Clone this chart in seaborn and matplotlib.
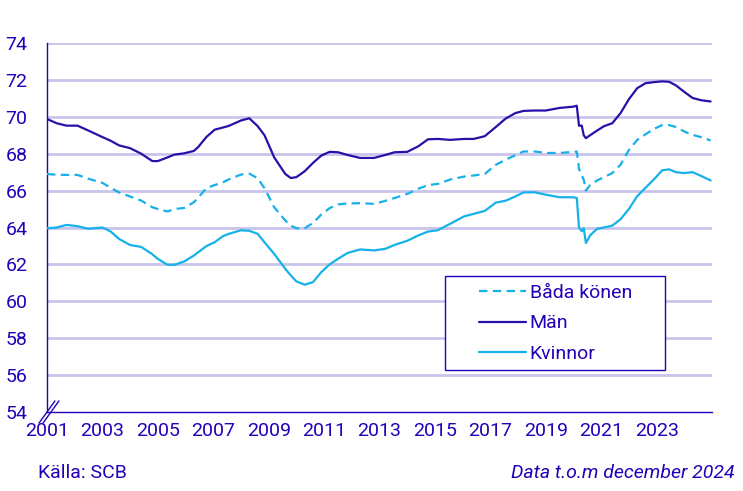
import matplotlib
matplotlib.use("Agg")
import matplotlib.pyplot as plt
from matplotlib.patches import Rectangle
import seaborn as sns
import pandas as pd

# Time (decimal year) of the points
years = [2001.0, 2001.35, 2001.7, 2002.1, 2002.5, 2003.0, 2003.3, 2003.6, 2004.0, 2004.4,
         2004.8, 2005.0, 2005.35, 2005.6, 2005.95, 2006.3, 2006.45, 2006.75, 2007.05, 2007.35,
         2007.55, 2008.0, 2008.3, 2008.6, 2008.85, 2009.2, 2009.6, 2009.8, 2010.0, 2010.3,
         2010.6, 2010.9, 2011.2, 2011.5, 2011.85, 2012.3, 2012.8, 2013.2, 2013.55, 2014.0,
         2014.4, 2014.75, 2015.1, 2015.55, 2016.05, 2016.4, 2016.8, 2017.2, 2017.55, 2017.9,
         2018.2, 2018.6, 2019.0, 2019.5, 2020.0, 2020.12, 2020.2, 2020.3, 2020.37, 2020.45,
         2020.6, 2020.85, 2021.1, 2021.4, 2021.7, 2022.0, 2022.3, 2022.6, 2022.9, 2023.2,
         2023.45, 2023.7, 2024.0, 2024.3, 2024.6, 2024.95]

man = [69.88, 69.65, 69.52, 69.52, 69.25, 68.9, 68.7, 68.45, 68.3, 68.0,
       67.6, 67.6, 67.8, 67.95, 68.02, 68.15, 68.35, 68.9, 69.3, 69.42,
       69.5, 69.8, 69.92, 69.5, 69.0, 67.8, 66.9, 66.68, 66.73, 67.05,
       67.5, 67.9, 68.1, 68.08, 67.93, 67.77, 67.77, 67.93, 68.08, 68.1,
       68.4, 68.78, 68.8, 68.75, 68.8, 68.8, 68.95, 69.45, 69.9, 70.2,
       70.32, 70.34, 70.34, 70.48, 70.55, 70.6, 69.52, 69.52, 69.0, 68.84,
       69.0, 69.25, 69.49, 69.65, 70.2, 70.95, 71.55, 71.82, 71.88, 71.92,
       71.9, 71.7, 71.35, 71.02, 70.9, 70.83]

bada = [66.9, 66.86, 66.85, 66.85, 66.64, 66.42, 66.15, 65.9, 65.68, 65.46,
        65.1, 65.0, 64.87, 65.0, 65.06, 65.37, 65.6, 66.13, 66.3, 66.45,
        66.6, 66.87, 66.92, 66.67, 66.13, 65.1, 64.38, 64.1, 63.96, 63.96,
        64.25, 64.7, 65.05, 65.25, 65.3, 65.32, 65.28, 65.44, 65.6, 65.82,
        66.1, 66.3, 66.36, 66.6, 66.76, 66.82, 66.9, 67.4, 67.67, 67.92,
        68.12, 68.12, 68.04, 68.04, 68.1, 68.12, 67.18, 66.82, 66.6, 66.0,
        66.3, 66.55, 66.73, 66.95, 67.4, 68.2, 68.75, 69.05, 69.34, 69.55,
        69.55, 69.45, 69.2, 69.02, 68.9, 68.72]

kvinnor = [63.96, 64.0, 64.14, 64.07, 63.93, 64.0, 63.78, 63.38, 63.05, 62.95,
           62.55, 62.3, 61.98, 61.98, 62.16, 62.48, 62.65, 62.99, 63.2, 63.53,
           63.65, 63.85, 63.82, 63.66, 63.2, 62.57, 61.76, 61.4, 61.08, 60.9,
           61.04, 61.58, 62.0, 62.3, 62.62, 62.81, 62.76, 62.84, 63.06, 63.28,
           63.57, 63.78, 63.85, 64.2, 64.6, 64.74, 64.9, 65.35, 65.45, 65.68,
           65.9, 65.91, 65.78, 65.64, 65.64, 65.6, 64.0, 63.8, 63.96, 63.16,
           63.57, 63.93, 64.0, 64.1, 64.45, 65.0, 65.7, 66.15, 66.6, 67.1,
           67.15, 67.0, 66.95, 67.0, 66.8, 66.55]

series_names = ["Båda könen", "Män", "Kvinnor"]
y_ticks = list(range(54, 75, 2))
x_ticks = list(range(2001, 2026))
x_labels = [str(y) if (y % 2 == 1 and y <= 2023) else "" for y in x_ticks]

df = pd.DataFrame({"År": years * 3,
                   "Värde": bada + man + kvinnor,
                   "Serie": [series_names[0]] * len(years) + [series_names[1]] * len(years)
                            + [series_names[2]] * len(years)})

TXT = "#2400B8"
DARK = "#2A0FA8"
LIGHT = "#16B1E8"
GRID = "#C9C4EC"
FS = 14

sns.set_theme(style="white")
plt.rcParams["font.family"] = ["Roboto", "DejaVu Sans"]

fig = plt.figure(figsize=(7.43, 4.91), dpi=100)
ax = fig.add_axes([47 / 743, 1 - 412 / 491, 665 / 743, 369 / 491])

palette = {series_names[0]: LIGHT, series_names[1]: DARK, series_names[2]: LIGHT}
sns.lineplot(data=df, x="År", y="Värde", hue="Serie", style="Serie",
             palette=palette, hue_order=series_names, style_order=series_names,
             dashes={series_names[0]: (3.8, 2.4), series_names[1]: "", series_names[2]: ""},
             linewidth=1.6, ax=ax, legend=True, zorder=3)

ax.set_xlim(2001, 2025)
ax.set_ylim(54, 74)
ax.set_yticks(y_ticks)
ax.set_xticks(x_ticks)
ax.set_xticklabels(x_labels)
ax.set_xlabel("")
ax.set_ylabel("")

for v in y_ticks[1:]:
    ax.axhline(v, color=GRID, linewidth=2.0, zorder=1)

for s in ["top", "right"]:
    ax.spines[s].set_visible(False)
for s in ["left", "bottom"]:
    ax.spines[s].set_color(TXT)
    ax.spines[s].set_linewidth(1.0)

ax.tick_params(axis="x", colors=TXT, direction="out", length=6, width=1.0,
               labelsize=FS, pad=1, labelcolor=TXT)
ax.tick_params(axis="y", length=0, labelsize=FS, pad=14, labelcolor=TXT)

# axis break mark
for dx in (-0.006, 0.0):
    ax.plot([-0.012 + dx + 0.006, 0.012 + dx + 0.006], [-0.03, 0.03], transform=ax.transAxes,
            color=TXT, linewidth=1.0, clip_on=False, zorder=5)

# legend frame (wider padding than matplotlib's legend allows)
x0, x1 = (445 - 47) / 665, (665 - 47) / 665
y0, y1 = (412 - 370) / 369, (412 - 276) / 369
ax.add_patch(Rectangle((x0, y0), x1 - x0, y1 - y0, transform=ax.transAxes,
                       facecolor="white", edgecolor=TXT, linewidth=1.0, zorder=6))

leg = ax.legend(loc="upper left", bbox_to_anchor=((479 - 47) / 665, (412 - 284) / 369),
                frameon=False, fontsize=FS, handlelength=2.4, handletextpad=0.2,
                labelspacing=0.64, borderpad=0.0, borderaxespad=0)
leg.set_zorder(7)
for t in leg.get_texts():
    t.set_color(TXT)
for h in leg.get_lines():
    h.set_linewidth(1.6)

fig.text(38 / 743, 1 - 473 / 491, "Källa: SCB", color=TXT, fontsize=FS, va="center", ha="left")
fig.text(735 / 743, 1 - 473 / 491, "Data t.o.m december 2024", color=TXT, fontsize=FS,
         va="center", ha="right", style="italic")

fig.savefig("out.png", dpi=100)
